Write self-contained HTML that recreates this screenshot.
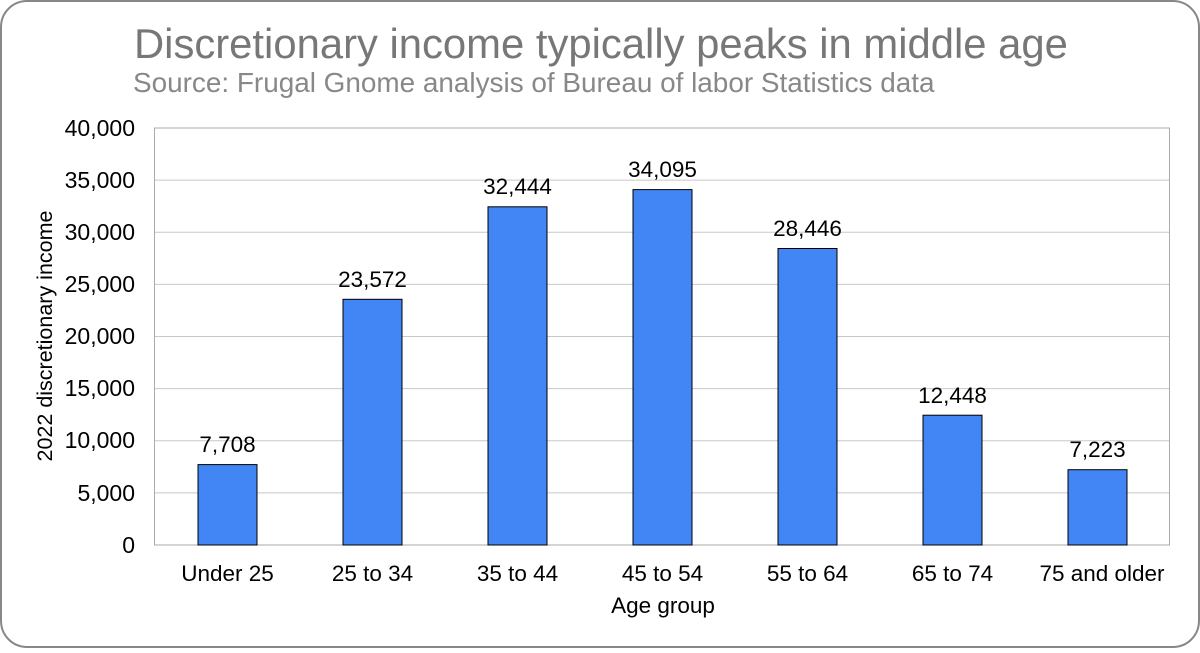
<!DOCTYPE html><html><head><style>body{margin:0;background:#fff}</style></head><body>
<svg width="1200" height="648" xmlns="http://www.w3.org/2000/svg" font-family="Liberation Sans, sans-serif">
<rect x="1" y="1" width="1198" height="646" rx="26" fill="#fff" stroke="#888" stroke-width="2"/>
<text x="134" y="58" font-size="41.8" fill="#777">Discretionary income typically peaks in middle age</text>
<text x="133" y="92" font-size="27.9" fill="#888">Source: Frugal Gnome analysis of Bureau of labor Statistics data</text>
<g stroke="#c8c8c8" stroke-width="1">
<line x1="155" y1="180.1" x2="1170" y2="180.1"/><line x1="155" y1="232.2" x2="1170" y2="232.2"/><line x1="155" y1="284.4" x2="1170" y2="284.4"/><line x1="155" y1="336.5" x2="1170" y2="336.5"/><line x1="155" y1="388.6" x2="1170" y2="388.6"/><line x1="155" y1="440.7" x2="1170" y2="440.7"/><line x1="155" y1="492.9" x2="1170" y2="492.9"/>
</g>
<rect x="154.5" y="128" width="1015" height="417" fill="none" stroke="#aaa"/>
<g font-size="23" fill="#000" text-anchor="end">
<text x="135" y="136">40,000</text><text x="135" y="188">35,000</text><text x="135" y="240">30,000</text><text x="135" y="292">25,000</text><text x="135" y="344">20,000</text><text x="135" y="396">15,000</text><text x="135" y="448">10,000</text><text x="135" y="501">5,000</text><text x="135" y="553">0</text>
</g>
<text transform="translate(52,336) rotate(-90)" font-size="21.5" text-anchor="middle">2022 discretionary income</text>
<g fill="#4285f4" stroke="#000" stroke-width="1">
<rect x="198" y="464.6" width="59" height="80.4"/>
<rect x="343" y="299.3" width="59" height="245.7"/>
<rect x="488" y="206.8" width="59" height="338.2"/>
<rect x="633" y="189.6" width="59" height="355.4"/>
<rect x="778" y="248.5" width="59" height="296.5"/>
<rect x="923" y="415.2" width="59" height="129.8"/>
<rect x="1068" y="469.7" width="59" height="75.3"/>
</g>
<g font-size="22.5" text-anchor="middle">
<text x="227.5" y="452">7,708</text><text x="372.5" y="287">23,572</text><text x="517.5" y="194">32,444</text><text x="662.5" y="177">34,095</text><text x="807.5" y="236">28,446</text><text x="952.5" y="403">12,448</text><text x="1097.5" y="457">7,223</text>
<text x="227.5" y="581">Under 25</text><text x="372.5" y="581">25 to 34</text><text x="517.5" y="581">35 to 44</text><text x="662.5" y="581">45 to 54</text><text x="807.5" y="581">55 to 64</text><text x="952.5" y="581">65 to 74</text><text x="1102" y="581">75 and older</text>
<text x="663" y="613">Age group</text>
</g>
</svg></body></html>
